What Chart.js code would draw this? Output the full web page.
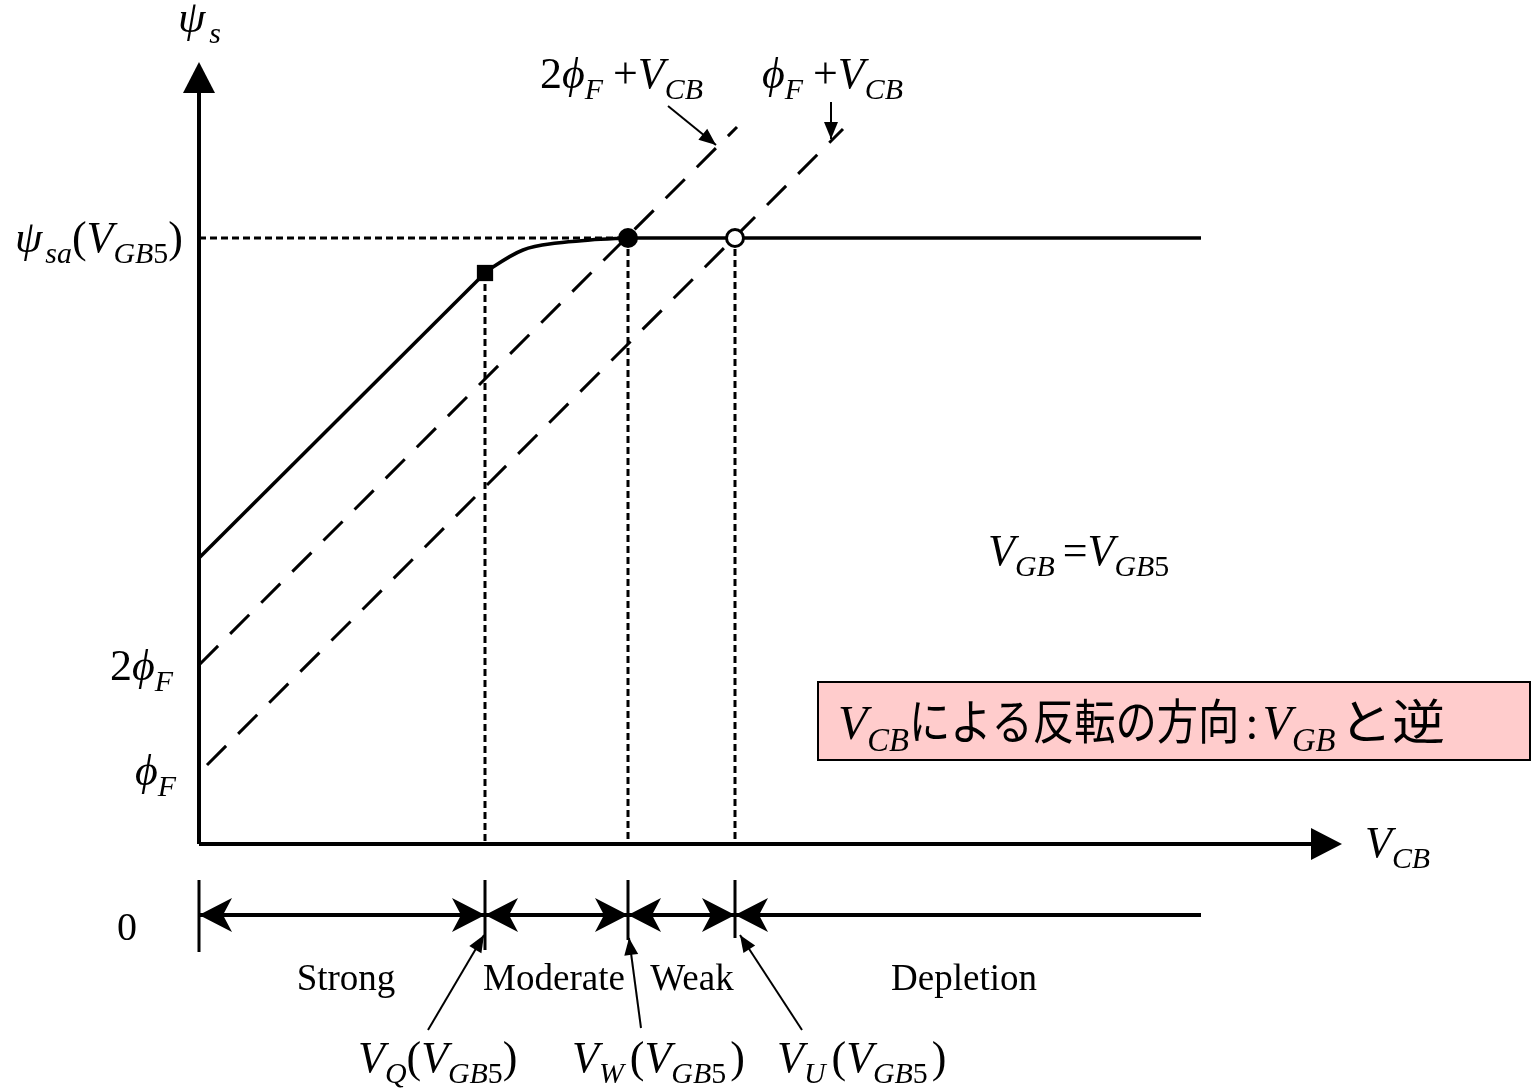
<!DOCTYPE html>
<html>
<head>
<meta charset="utf-8">
<script src="https://cdn.jsdelivr.net/npm/chart.js@4/dist/chart.umd.min.js"></script>
<style>
  html, body { margin: 0; padding: 0; background: #fff; overflow: hidden; }
  #wrap { width: 1531px; height: 1090px; position: relative; }
</style>
</head>
<body>
<div id="wrap"><canvas id="chart" width="1531" height="1090"></canvas></div>
<script>
// Schematic units (V_CB along x, psi_s along y)
const vQ = 2.86, vW = 4.29, vU = 5.36;      // region boundaries
const psiSat = 6.06;                        // psi_sa(V_GB5)
const strongX = [0, 2.86];
const strongY = [2.86, 5.71];
const kneeX = [2.86, 2.94, 3.24, 3.58, 3.91, 4.29];
const kneeY = [5.71, 5.77, 5.94, 6.01, 6.04, 6.06];
const satX = [4.29, 10.02];
const twoPhiLineX = [0, 5.38];
const twoPhiLineY = [1.79, 7.17];
const phiLineX = [0.08, 6.44];
const phiLineY = [0.79, 7.15];
const axisYTop = 7.82, axisXEnd = 11.43;
const barY = -0.71, barEnd = 10.02;
const tickTop = [-0.36, -0.36, -0.36, -0.36];
const tickBottom = [-1.08, -1.06, -0.96, -0.94];
const regionNames = ['Strong', 'Moderate', 'Weak', 'Depletion'];
const regionCenters = [1.47, 3.55, 4.93, 7.65];

const xy = (xs, ys) => xs.map((x, i) => ({ x, y: ys[i] }));
const bounds = [0, vQ, vW, vU];

const SERIF = '"Liberation Serif", "DejaVu Serif", serif';
const JP = '"Noto Sans CJK JP", "Noto Sans CJK SC", sans-serif';

// parts: [text, style]; styles: r/i main regular/italic, sr/si subscript, g gap, j/J japanese
function rich(ctx, x, y, parts, base) {
    let cx = x;
    parts.forEach(([t, s]) => {
        if (s === 'g') { cx += t; return; }
        if (s === 'j' || s === 'J') {
            const k = s === 'j' ? 0.86 : 1.1;
            ctx.save();
            ctx.font = `${base}px ${JP}`;
            ctx.translate(cx, y);
            ctx.scale(k, 1);
            ctx.fillText(t, 0, 0);
            cx += ctx.measureText(t).width * k;
            ctx.restore();
            return;
        }
        const sub = s[0] === 's';
        const size = sub ? base * 0.68 : base;
        ctx.font = `${s.endsWith('i') ? 'italic ' : ''}${size}px ${SERIF}`;
        ctx.fillText(t, cx, y + (sub ? base * 0.25 : 0));
        cx += ctx.measureText(t).width;
    });
}

function arrowHead(ctx, tx, ty, ang, len, half, notch) {
    ctx.save();
    ctx.translate(tx, ty);
    ctx.rotate(ang);
    ctx.beginPath();
    ctx.moveTo(0, 0);
    ctx.lineTo(-len, -half);
    ctx.lineTo(-len + notch, 0);
    ctx.lineTo(-len, half);
    ctx.closePath();
    ctx.fill();
    ctx.restore();
}

function pointer(ctx, x1, y1, x2, y2) {
    ctx.lineWidth = 2;
    ctx.beginPath();
    ctx.moveTo(x1, y1);
    ctx.lineTo(x2, y2);
    ctx.stroke();
    arrowHead(ctx, x2, y2, Math.atan2(y2 - y1, x2 - x1), 17, 7, 0);
}

const overlay = {
    id: 'overlay',
    afterDatasetsDraw(chart) {
        const ctx = chart.ctx;
        const sx = chart.scales.x, sy = chart.scales.y;
        const X = v => sx.getPixelForValue(v), Y = v => sy.getPixelForValue(v);
        ctx.save();
        ctx.fillStyle = '#000';
        ctx.strokeStyle = '#000';
        ctx.textBaseline = 'alphabetic';

        // axis arrows
        arrowHead(ctx, X(0), Y(axisYTop), -Math.PI / 2, 31, 16, 0);
        arrowHead(ctx, X(axisXEnd), Y(0), 0, 31, 16, 0);

        // region bar arrowheads
        const yb = Y(barY);
        bounds.forEach((b, i) => {
            const px = X(b);
            arrowHead(ctx, px, yb, Math.PI, 33, 17, 9);
            if (i > 0) arrowHead(ctx, px, yb, 0, 33, 17, 9);
        });

        // pointers
        pointer(ctx, X(2.29), Y(-1.86), X(vQ) - 1, Y(-0.91));
        pointer(ctx, X(4.42), Y(-1.84), X(vW) + 1, Y(-0.94));
        pointer(ctx, X(6.03), Y(-1.86), X(vU) + 5, Y(-0.91));
        pointer(ctx, X(4.69), Y(7.38), X(5.17), Y(6.99));
        pointer(ctx, X(6.32), Y(7.42), X(6.32), Y(7.05));

        // labels
        const M = 44;
        rich(ctx, X(-0.21), Y(8.12), [['\u03C8', 'i'], [4, 'g'], ['s', 'si']], M);
        rich(ctx, X(-1.84), Y(5.92), [['\u03C8', 'i'], [3, 'g'], ['sa', 'si'], ['(', 'r'], ['V', 'i'], ['GB', 'si'], ['5', 'sr'], [')', 'r']], M);
        rich(ctx, X(-0.89), Y(1.64), [['2', 'r'], ['\u03D5', 'i'], ['F', 'si']], M);
        rich(ctx, X(-0.64), Y(0.59), [['\u03D5', 'i'], ['F', 'si']], M);
        rich(ctx, X(-0.82), Y(-0.96), [['0', 'r']], 40);
        rich(ctx, X(3.41), Y(7.56), [['2', 'r'], ['\u03D5', 'i'], ['F', 'si'], [10, 'g'], ['+', 'r'], ['V', 'i'], ['CB', 'si']], M);
        rich(ctx, X(5.63), Y(7.56), [['\u03D5', 'i'], ['F', 'si'], [10, 'g'], ['+', 'r'], ['V', 'i'], ['CB', 'si']], M);
        rich(ctx, X(11.66), Y(-0.13), [['V', 'i'], ['CB', 'si']], M);
        rich(ctx, X(7.89), Y(2.79), [['V', 'i'], ['GB', 'si'], [8, 'g'], ['=', 'r'], ['V', 'i'], ['GB', 'si'], ['5', 'sr']], M);

        ctx.textAlign = 'center';
        ctx.font = `37px ${SERIF}`;
        regionNames.forEach((n, i) => ctx.fillText(n, X(regionCenters[i]), Y(-1.46)));
        ctx.textAlign = 'left';

        rich(ctx, X(1.59), Y(-2.28), [['V', 'i'], ['Q', 'si'], ['(', 'r'], ['V', 'i'], ['GB', 'si'], ['5', 'sr'], [')', 'r']], M);
        rich(ctx, X(3.73), Y(-2.28), [['V', 'i'], ['W', 'si'], [6, 'g'], ['(', 'r'], ['V', 'i'], ['GB', 'si'], ['5', 'sr'], [4, 'g'], [')', 'r']], M);
        rich(ctx, X(5.78), Y(-2.28), [['V', 'i'], ['U', 'si'], [6, 'g'], ['(', 'r'], ['V', 'i'], ['GB', 'si'], ['5', 'sr'], [4, 'g'], [')', 'r']], M);

        // note box
        const bx1 = X(6.19), bx2 = X(13.31), by1 = Y(1.62), by2 = Y(0.84);
        ctx.fillStyle = '#FFCCCC';
        ctx.fillRect(bx1, by1, bx2 - bx1, by2 - by1);
        ctx.lineWidth = 2;
        ctx.strokeRect(bx1, by1, bx2 - bx1, by2 - by1);
        ctx.fillStyle = '#000';
        rich(ctx, bx1 + 20, by1 + 57, [['V', 'i'], ['CB', 'si'], ['による反転の方向', 'j'], [6, 'g'], [':', 'r'], [4, 'g'],
            ['V', 'i'], ['GB', 'si'], [4, 'g'], ['と逆', 'J']], 48);
        ctx.restore();
    }
};

const line = (data, extra) => Object.assign({
    data, showLine: true, borderColor: '#000', borderWidth: 3.5,
    pointRadius: 0, fill: false
}, extra);

new Chart(document.getElementById('chart'), {
    type: 'scatter',
    data: {
        datasets: [
            {
                data: [{ x: vQ, y: strongY[1] }, { x: vW, y: psiSat }, { x: vU, y: psiSat }],
                showLine: false,
                pointStyle: ['rect', 'circle', 'circle'],
                pointRadius: [11.5, 10, 8.5],
                backgroundColor: ['#000', '#000', '#fff'],
                borderColor: '#000',
                borderWidth: [0, 0, 3]
            },
            line(xy(strongX, strongY)),
            line(xy(kneeX, kneeY), { cubicInterpolationMode: 'monotone' }),
            line(xy(satX, [psiSat, psiSat])),
            line(xy(twoPhiLineX, twoPhiLineY), { borderWidth: 3, borderDash: [27, 17] }),
            line(xy(phiLineX, phiLineY), { borderWidth: 3, borderDash: [27, 17] }),
            line(xy([0, vW], [psiSat, psiSat]), { borderWidth: 3, borderDash: [7, 4] }),
            line(xy([vQ, vQ], [strongY[1], 0]), { borderWidth: 3, borderDash: [7, 4] }),
            line(xy([vW, vW], [psiSat, 0]), { borderWidth: 3, borderDash: [7, 4] }),
            line(xy([vU, vU], [psiSat, 0]), { borderWidth: 3, borderDash: [7, 4] }),
            line(xy([0, 0], [0, axisYTop - 0.2]), { borderWidth: 4 }),
            line(xy([0, axisXEnd - 0.2], [0, 0]), { borderWidth: 4 }),
            line(xy([0, barEnd], [barY, barY]), { borderWidth: 4 }),
            ...bounds.map((b, i) => line(xy([b, b], [tickTop[i], tickBottom[i]]), { borderWidth: 3 }))
        ]
    },
    options: {
        responsive: false,
        animation: false,
        devicePixelRatio: 1,
        events: [],
        layout: { padding: 0, autoPadding: false },
        plugins: { legend: { display: false }, tooltip: { enabled: false } },
        scales: {
            x: { type: 'linear', display: false, min: -1.99, max: 13.32 },
            y: { type: 'linear', display: false, min: -2.46, max: 8.44 }
        }
    },
    plugins: [overlay]
});
</script>
</body>
</html>
